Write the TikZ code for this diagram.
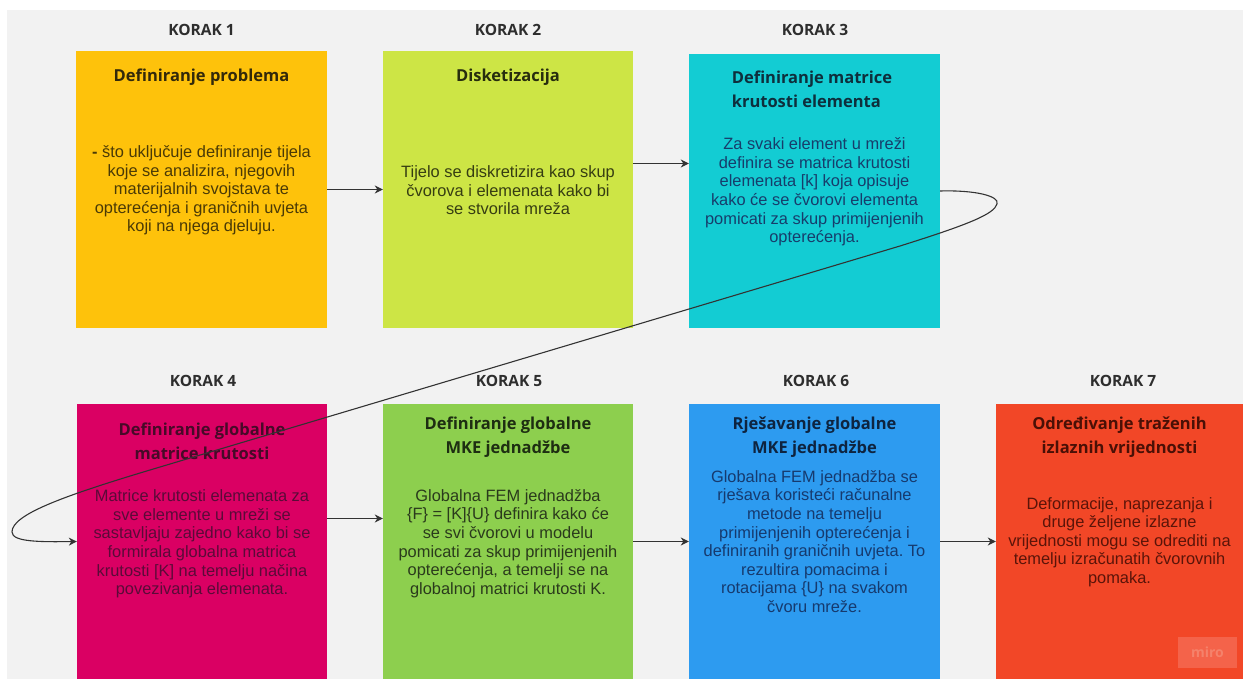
\documentclass[tikz,border=0pt]{standalone}
\usepackage{fontspec}
\setmainfont{Liberation Sans}
\newfontfamily\osans{Open Sans}
\usetikzlibrary{arrows.meta}
\frenchspacing
\definecolor{bgg}{HTML}{F2F2F2}
\definecolor{c1}{HTML}{FEC20B}
\definecolor{c2}{HTML}{CDE545}
\definecolor{c3}{HTML}{13CCD3}
\definecolor{c4}{HTML}{DA0063}
\definecolor{c5}{HTML}{8DCF4E}
\definecolor{c6}{HTML}{2D9BF0}
\definecolor{c7}{HTML}{F24727}
\definecolor{t1}{HTML}{33290A}
\definecolor{d1}{HTML}{4A3A06}
\definecolor{t2}{HTML}{272D0E}
\definecolor{d2}{HTML}{363D12}
\definecolor{t3}{HTML}{0E2F3C}
\definecolor{d3}{HTML}{173D6B}
\definecolor{t4}{HTML}{470A28}
\definecolor{d4}{HTML}{5A0B38}
\definecolor{t5}{HTML}{1E2E12}
\definecolor{d5}{HTML}{2A3A1C}
\definecolor{t6}{HTML}{0E2440}
\definecolor{d6}{HTML}{163A6E}
\definecolor{t7}{HTML}{4A1006}
\definecolor{d7}{HTML}{5A1409}
\definecolor{arrowgray}{HTML}{333333}
\definecolor{wm}{HTML}{F4634A}
\definecolor{wmtext}{HTML}{F5826B}
\begin{document}
\begin{tikzpicture}[x=1pt,y=-1pt,
  box/.style={rectangle, draw=none, inner sep=0pt},
  steplabel/.style={font=\osans\bfseries\fontsize{15.5}{18}\selectfont, text=black!82, inner sep=0pt},
  ttl/.style={font=\osans\bfseries\fontsize{16.5}{24}\selectfont, align=center, inner sep=0pt},
  bdy/.style={font=\fontsize{16.4}{18.6}\selectfont, align=center, inner sep=0pt},
  arr/.style={draw=arrowgray, line width=1.1pt, -{Stealth[length=8pt,width=8pt,inset=2.5pt]}}]
\useasboundingbox (0,0) rectangle (1243,679);
\fill[white] (0,0) rectangle (1243,679);
\fill[bgg] (7,10) rectangle (1243,679);

% boxes
\node[box, fill=c1, minimum width=251pt, minimum height=277pt] (b1) at (201.5,189.5) {};
\node[box, fill=c2, minimum width=250pt, minimum height=277pt] (b2) at (508,189.5) {};
\node[box, fill=c3, minimum width=251pt, minimum height=274pt] (b3) at (814.5,191) {};
\node[box, fill=c4, minimum width=250pt, minimum height=275pt] (b4) at (202,541.5) {};
\node[box, fill=c5, minimum width=250pt, minimum height=275pt] (b5) at (508,541.5) {};
\node[box, fill=c6, minimum width=251pt, minimum height=275pt] (b6) at (814.5,541.5) {};
\node[box, fill=c7, minimum width=247pt, minimum height=275pt] (b7) at (1119.5,541.5) {};

% step labels
\node[steplabel] (k1) at (201.5,30) {KORAK 1};
\node[steplabel] (k2) at (508,30) {KORAK 2};
\node[steplabel] (k3) at (815,30) {KORAK 3};
\node[steplabel] (k4) at (203,381) {KORAK 4};
\node[steplabel] (k5) at (509,381) {KORAK 5};
\node[steplabel] (k6) at (816,381) {KORAK 6};
\node[steplabel] (k7) at (1123,381) {KORAK 7};

% titles
\node[ttl, text=t1] (h1) at (201.5,77) {Definiranje problema};
\node[ttl, text=t2] (h2) at (508,77) {Disketizacija};
\node[ttl, text=t3, align=left] (h3) at (812,89) {Definiranje matrice\\krutosti elementa};
\node[ttl, text=t4] (h4) at (202,441) {Definiranje globalne\\matrice krutosti};
\node[ttl, text=t5] (h5) at (508,437) {Definiranje globalne\\MKE jednadžbe};
\node[ttl, text=t6] (h6) at (814.5,437) {Rješavanje globalne\\MKE jednadžbe};
\node[ttl, text=t7] (h7) at (1119.5,437) {Određivanje traženih\\izlaznih vrijednosti};

% bodies
\node[bdy, text=d1] (p1) at (201.5,190.5) {\textbf{-} što uključuje definiranje tijela\\koje se analizira, njegovih\\materijalnih svojstava te\\opterećenja i graničnih uvjeta\\koji na njega djeluju.};
\node[bdy, text=d2] (p2) at (508,190.5) {Tijelo se diskretizira kao skup\\čvorova i elemenata kako bi\\se stvorila mreža};
\node[bdy, text=d3] (p3) at (814.5,192) {Za svaki element u mreži\\definira se matrica krutosti\\elemenata [k] koja opisuje\\kako će se čvorovi elementa\\pomicati za skup primijenjenih\\opterećenja.};
\node[bdy, text=d4] (p4) at (202,544) {Matrice krutosti elemenata za\\sve elemente u mreži se\\sastavljaju zajedno kako bi se\\formirala globalna matrica\\krutosti [K] na temelju načina\\povezivanja elemenata.};
\node[bdy, text=d5] (p5) at (508,543.5) {Globalna FEM jednadžba\\\{F\} = [K]\{U\} definira kako će\\se svi čvorovi u modelu\\pomicati za skup primijenjenih\\opterećenja, a temelji se na\\globalnoj matrici krutosti K.};
\node[bdy, text=d6] (p6) at (814.5,541.5) {Globalna FEM jednadžba se\\rješava koristeći računalne\\metode na temelju\\primijenjenih opterećenja i\\definiranih graničnih uvjeta. To\\rezultira pomacima i\\rotacijama \{U\} na svakom\\čvoru mreže.};
\node[bdy, text=d7] (p7) at (1119.5,542) {Deformacije, naprezanja i\\druge željene izlazne\\vrijednosti mogu se odrediti na\\temelju izračunatih čvorovnih\\pomaka.};

% watermark
\node[box, fill=wm, minimum width=59pt, minimum height=31pt, text=wmtext, font=\osans\bfseries\fontsize{14}{14}\selectfont] (miro) at (1207.5,652.5) {miro};

% connectors
\draw[arr] (b1.east) -- (b2.west);
\draw[arr] ([yshift=26pt]b2.east) -- ([yshift=27.5pt]b3.west);
\draw[arr] ([yshift=23pt]b4.east) -- ([yshift=23pt]b5.west);
\draw[arr] (b5.east) -- (b6.west);
\draw[arr] (b6.east) -- (b7.west);
\draw[arr] (b3.east) .. controls (975,190) and (1000,196) .. (997,204)
  .. controls (994,214) and (970,224) .. (900,246) -- (150,470)
  .. controls (60,497) and (12,515) .. (12,532)
  .. controls (12,542) and (40,542) .. (b4.west);
\end{tikzpicture}
\end{document}
